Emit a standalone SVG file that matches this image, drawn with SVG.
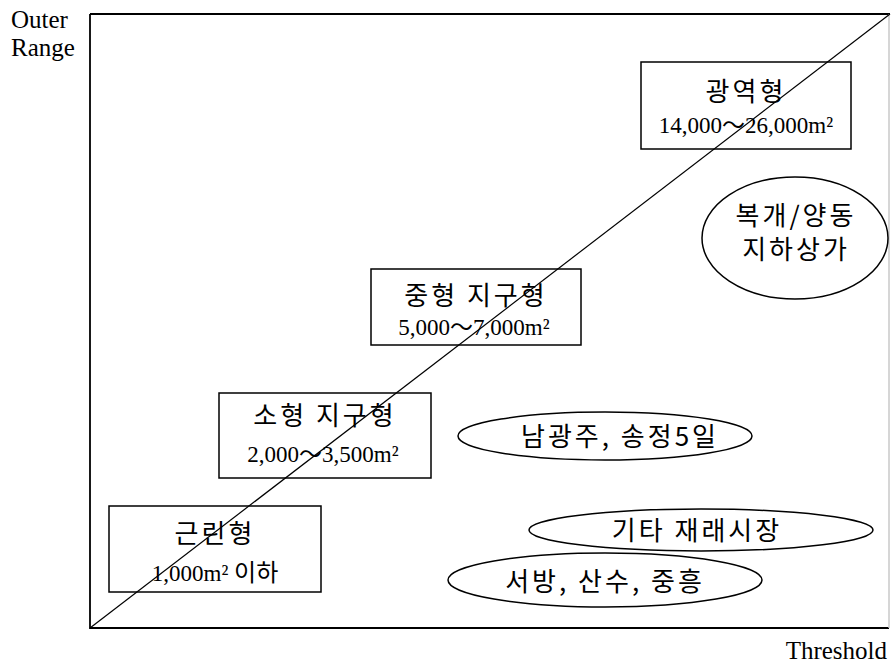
<svg xmlns="http://www.w3.org/2000/svg" width="891" height="666" viewBox="0 0 891 666">
<style>
.frame{fill:none;stroke:#000;stroke-width:1.8}
.node{fill:#fff;stroke:#000;stroke-width:1.5}
.oval{fill:none;stroke:#000;stroke-width:1.5}
.kr{font-family:"Noto Sans CJK KR","Noto Sans",sans-serif;font-size:26px;fill:#000;text-anchor:middle;letter-spacing:3px}
.num{font-family:"Liberation Serif","Noto Sans CJK KR",serif;font-size:23px;fill:#000;text-anchor:middle}
.axis{font-family:"Liberation Serif",serif;font-size:25px;fill:#000}
</style>
<rect width="891" height="666" fill="#fff"/>
<g id="axes">
<polyline class="frame" points="90,14 90,628 889,628"/>
<line class="frame" x1="90" y1="14" x2="890" y2="14"/>
<line x1="889" y1="14" x2="889" y2="628" stroke="#c8c8c8" stroke-width="1.5"/>
<text class="axis" x="11" y="28">Outer</text>
<text class="axis" x="11" y="56">Range</text>
<text class="axis" x="887" y="659" text-anchor="end">Threshold</text>
</g>
<g id="n1"><rect class="node" x="641" y="62" width="210" height="87"/>
<text class="kr" x="746" y="101">광역형</text>
<text class="num" x="746" y="133">14,000～26,000m²</text></g>
<g id="n2"><rect class="node" x="371" y="269" width="210" height="76"/>
<text class="kr" x="476" y="305">중형 지구형</text>
<text class="num" x="474" y="335">5,000～7,000m²</text></g>
<g id="n3"><rect class="node" x="219" y="393" width="212" height="85"/>
<text class="kr" x="325" y="425">소형 지구형</text>
<text class="num" x="323" y="462">2,000～3,500m²</text></g>
<g id="n4"><rect class="node" x="109" y="506" width="212" height="86"/>
<text class="kr" x="215" y="543">근린형</text>
<text class="num" x="215" y="581">1,000m² <tspan font-family="Noto Sans CJK KR" font-size="24">이하</tspan></text></g>
<g id="e1"><ellipse class="oval" cx="795" cy="238" rx="93" ry="61"/>
<text class="kr" x="796" y="225">복개/양동</text>
<text class="kr" x="796" y="259">지하상가</text></g>
<g id="e2"><ellipse class="oval" cx="605" cy="436" rx="147" ry="24"/>
<text class="kr" x="620" y="446">남광주, 송정5일</text></g>
<g id="e3"><ellipse class="oval" cx="701" cy="530" rx="172" ry="21"/>
<text class="kr" x="697" y="540">기타 재래시장</text></g>
<g id="e4"><ellipse class="oval" cx="605" cy="580" rx="157" ry="27"/>
<text class="kr" x="605" y="591">서방, 산수, 중흥</text></g>
<g id="connectors">
<line x1="90" y1="628" x2="890" y2="14" stroke="#000" stroke-width="1.2"/>
</g>
</svg>
